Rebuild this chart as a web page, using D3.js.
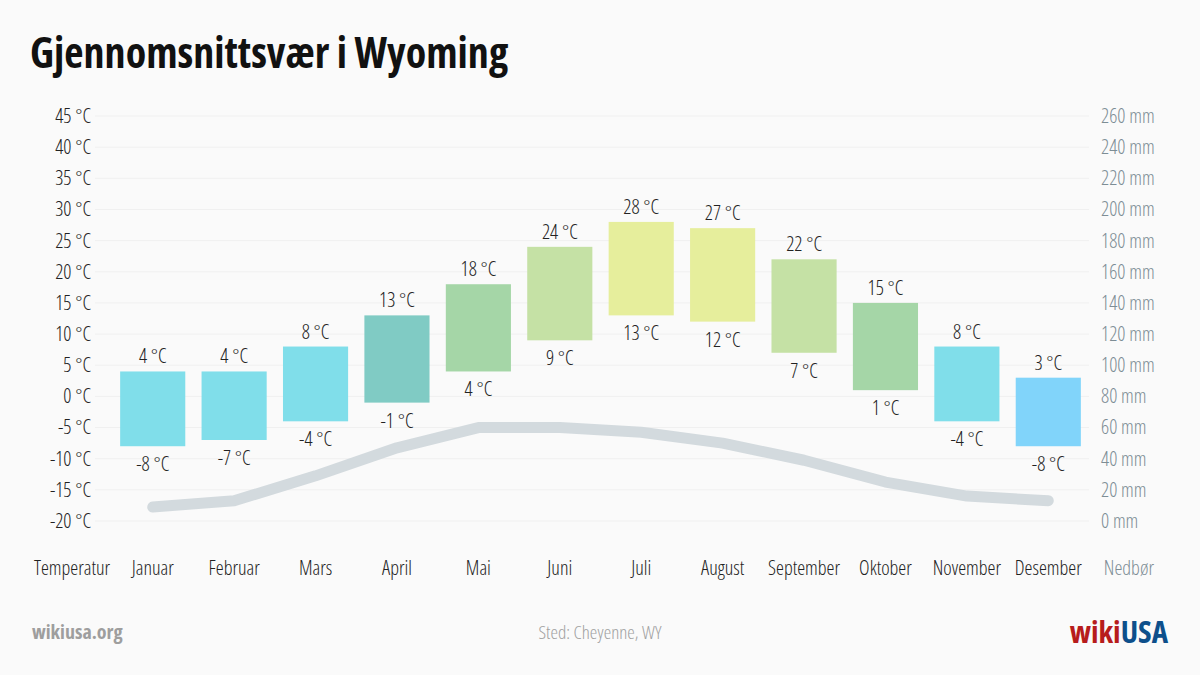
<!DOCTYPE html>
<html>
<head>
<meta charset="utf-8">
<script src="https://cdn.jsdelivr.net/npm/d3@7"></script>
<style>
  html, body { margin: 0; padding: 0; background: #fafafa; }
  svg { display: block; }
  text { font-family: "Open Sans", "Noto Sans", sans-serif; font-stretch: condensed; font-weight: 300; }
  text.bold, text.bold tspan { font-weight: 700; }
</style>
</head>
<body>
<svg id="chart" width="1200" height="675"></svg>
<script>
const months = ["Januar","Februar","Mars","April","Mai","Juni","Juli","August","September","Oktober","November","Desember"];
const tempHigh = [4, 4, 8, 13, 18, 24, 28, 27, 22, 15, 8, 3];
const tempLow = [-8, -7, -4, -1, 4, 9, 13, 12, 7, 1, -4, -8];
const precip = [9, 13, 29, 47, 60, 60, 57, 50, 39, 25, 16, 13];
const tempTicks = [-20, -15, -10, -5, 0, 5, 10, 15, 20, 25, 30, 35, 40, 45];
const precipTicks = [0, 20, 40, 60, 80, 100, 120, 140, 160, 180, 200, 220, 240, 260];

const svg = d3.select("#chart");
const W = 1200, H = 675;
const plot = { left: 112, right: 1089, top: 116, bottom: 521 };

const x = d3.scaleBand().domain(months).range([plot.left, plot.right]).paddingInner(0.2).paddingOuter(0.1);
const yT = d3.scaleLinear().domain([-20, 45]).range([plot.bottom, plot.top]);
const yP = d3.scaleLinear().domain([0, 260]).range([plot.bottom, plot.top]);

const color = d3.scaleThreshold()
  .domain([-2.2, 5, 7, 13, 18])
  .range(["#81d4fa", "#80deea", "#80cbc4", "#a5d6a7", "#c5e1a5", "#e6ee9c"]);

svg.append("rect").attr("width", W).attr("height", H).attr("fill", "#fafafa");

// title
svg.append("text").attr("class", "bold").attr("x", 30).attr("y", 68)
  .attr("font-size", 42).attr("fill", "#111")
  .text("Gjennomsnittsvær i Wyoming");

// grid
svg.append("g").selectAll("line").data(tempTicks).join("line")
  .attr("x1", 95).attr("x2", plot.right)
  .attr("y1", d => yT(d)).attr("y2", d => yT(d))
  .attr("stroke", "#f0f0f0").attr("stroke-width", 1);

// left axis
const axL = svg.append("g").attr("transform", `translate(91,0)`)
  .call(d3.axisLeft(yT).tickValues(tempTicks).tickSize(0).tickPadding(0).tickFormat(d => d + " °C"));
axL.select(".domain").remove();
axL.selectAll("text").attr("font-size", 20).attr("fill", "#222").attr("font-family", null);

// right axis
const axR = svg.append("g").attr("transform", `translate(1101,0)`)
  .call(d3.axisRight(yP).tickValues(precipTicks).tickSize(0).tickPadding(0).tickFormat(d => d + " mm"));
axR.select(".domain").remove();
axR.selectAll("text").attr("font-size", 20).attr("fill", "#7d8d95").attr("font-family", null);

// bars
const idx = d3.range(months.length);
svg.append("g").selectAll("rect").data(idx).join("rect")
  .attr("x", i => x(months[i]))
  .attr("width", x.bandwidth())
  .attr("y", i => yT(tempHigh[i]))
  .attr("height", i => yT(tempLow[i]) - yT(tempHigh[i]))
  .attr("fill", i => color((tempHigh[i] + tempLow[i]) / 2));

// precip line
const line = d3.line()
  .x((d, i) => x(months[i]) + x.bandwidth() / 2)
  .y(d => yP(d));
svg.append("path").datum(precip)
  .attr("d", line).attr("fill", "none")
  .attr("stroke", "#d3dade").attr("stroke-width", 11)
  .attr("stroke-linecap", "round").attr("stroke-linejoin", "round");

// value labels
const lab = svg.append("g").attr("font-size", 20).attr("fill", "#222").attr("text-anchor", "middle");
lab.selectAll("text.hi").data(idx).join("text").attr("class", "hi")
  .attr("x", i => x(months[i]) + x.bandwidth() / 2)
  .attr("y", i => yT(tempHigh[i]) - 8)
  .text(i => tempHigh[i] + " °C");
lab.selectAll("text.lo").data(idx).join("text").attr("class", "lo")
  .attr("x", i => x(months[i]) + x.bandwidth() / 2)
  .attr("y", i => yT(tempLow[i]) + 25)
  .text(i => tempLow[i] + " °C");

// month axis
const axB = svg.append("g").attr("transform", `translate(0,575)`)
  .call(d3.axisBottom(x).tickSize(0).tickPadding(0));
axB.select(".domain").remove();
axB.selectAll("text").attr("font-size", 20).attr("fill", "#222").attr("font-family", null).attr("dy", 0);

svg.append("text").attr("x", 72).attr("y", 575).attr("text-anchor", "middle")
  .attr("font-size", 20).attr("fill", "#222").text("Temperatur");
svg.append("text").attr("x", 1129).attr("y", 575).attr("text-anchor", "middle")
  .attr("font-size", 20).attr("fill", "#7d8d95").text("Nedbør");

// footer
svg.append("text").attr("class", "bold").attr("x", 32).attr("y", 639)
  .attr("font-size", 20).attr("fill", "#9e9e9e").text("wikiusa.org");
svg.append("text").attr("x", 600).attr("y", 639).attr("text-anchor", "middle")
  .attr("font-size", 19).attr("fill", "#a0a0a0").text("Sted: Cheyenne, WY");

const logo = svg.append("text").attr("class", "bold").attr("x", 1168).attr("y", 643).attr("text-anchor", "end")
  .attr("font-size", 31);
logo.append("tspan").attr("fill", "#b71c1c").text("wiki");
logo.append("tspan").attr("fill", "#0d4f8b").text("USA");
</script>
</body>
</html>
